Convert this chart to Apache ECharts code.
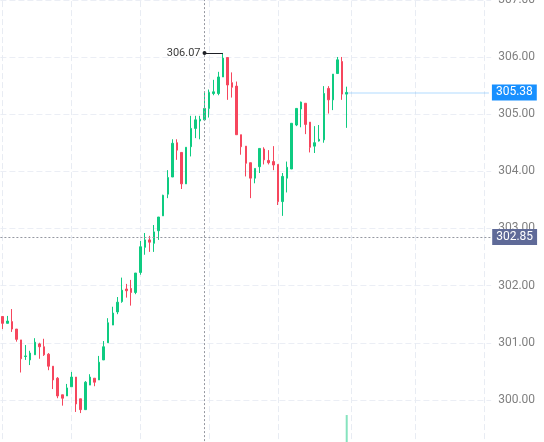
<!DOCTYPE html>
<html><head><meta charset="utf-8">
<script src="https://cdn.jsdelivr.net/npm/echarts@6/dist/echarts.min.js"></script>
<style>html,body{margin:0;padding:0;background:#fff}#c{width:544px;height:442px}</style>
</head><body><div id="c"></div>
<script>
const opens = [301.46, 301.34, 301.37, 301.24, 301.05, 300.76, 300.70, 300.79, 300.98, 300.93,
  300.80, 300.59, 300.38, 300.09, 300.07, 300.23, 300.40, 300.02, 299.83, 300.26,
  300.38, 300.35, 300.70, 301.00, 301.31, 301.54, 301.72, 301.94, 301.95, 301.88,
  302.23, 302.67, 302.80, 302.74, 302.96, 303.22, 303.60, 303.90, 304.50, 304.33,
  303.78, 304.43, 304.75, 304.88, 304.90, 305.10, 305.36, 305.36, 305.65, 305.99,
  305.55, 305.49, 304.64, 304.44, 304.15, 303.88, 304.08, 304.39, 304.19, 304.17,
  304.12, 303.47, 303.88, 304.04, 304.81, 305.09, 305.19, 304.86, 304.44, 304.53,
  304.55, 305.45, 305.25, 305.71, 305.92, 305.35];
const closes = [301.34, 301.38, 301.24, 301.06, 300.72, 300.77, 300.82, 301.01, 300.93, 300.79,
  300.59, 300.35, 300.07, 300.03, 300.21, 300.40, 299.93, 299.83, 300.31, 300.40,
  300.31, 300.66, 300.93, 301.35, 301.52, 301.71, 301.92, 301.91, 301.88, 302.22,
  302.68, 302.80, 302.76, 302.94, 303.20, 303.58, 303.89, 304.49, 304.37, 303.78,
  304.42, 304.75, 304.90, 304.91, 305.10, 305.38, 305.39, 305.65, 305.98, 305.51,
  305.47, 304.64, 304.43, 304.14, 303.88, 304.05, 304.40, 304.20, 304.15, 304.11,
  303.47, 303.91, 304.07, 304.84, 305.10, 305.21, 304.82, 304.42, 304.50, 304.56,
  305.36, 305.25, 305.70, 305.95, 305.35, 305.38];
const lows = [301.24, 301.34, 301.19, 301.02, 300.48, 300.70, 300.61, 300.79, 300.72, 300.77,
  300.52, 300.19, 300.03, 299.90, 300.07, 300.23, 299.79, 299.77, 299.83, 300.26,
  300.24, 300.35, 300.70, 301.00, 301.31, 301.50, 301.70, 301.79, 301.65, 301.85,
  302.19, 302.54, 302.59, 302.59, 302.80, 303.22, 303.53, 303.90, 304.20, 303.69,
  303.78, 304.26, 304.58, 304.56, 304.88, 304.94, 305.33, 305.33, 305.65, 305.25,
  305.29, 304.64, 304.29, 303.91, 303.53, 303.79, 303.97, 304.12, 304.12, 304.02,
  303.41, 303.22, 303.63, 304.04, 304.79, 304.77, 304.65, 304.33, 304.32, 304.52,
  304.50, 305.01, 305.07, 305.71, 305.25, 304.76];
const highs = [301.46, 301.47, 301.59, 301.24, 301.05, 300.96, 300.86, 301.08, 301.00, 301.07,
  300.82, 300.59, 300.40, 300.09, 300.28, 300.49, 300.40, 300.02, 300.33, 300.45,
  300.38, 300.77, 301.03, 301.43, 301.63, 301.80, 302.14, 302.03, 302.10, 302.22,
  302.78, 302.92, 302.87, 303.06, 303.20, 303.59, 304.02, 304.56, 304.56, 304.33,
  304.42, 304.97, 304.97, 304.97, 305.38, 305.43, 305.60, 305.74, 306.07, 305.99,
  305.73, 305.57, 304.64, 304.44, 304.15, 304.05, 304.40, 304.42, 304.37, 304.44,
  304.12, 303.97, 304.17, 304.84, 305.10, 305.22, 305.19, 304.86, 304.79, 304.81,
  305.49, 305.49, 305.70, 306.00, 306.00, 305.48];
const lastVolume = 9.2;            // only the last volume bar is visible in the crop
const crosshairIndex = 44;
const crosshairPrice = 302.85;
const timeGridIndices = [0, 15, 30, 45, 60, 76, 90, 105];
const totalSlots = 107;            // candles plus empty future slots on the right
const yMin = 299, yMax = 307, yStep = 1;

const categories = Array.from({length: totalSlots}, (_, i) => String(i));
const candleData = opens.map((o, i) => [o, closes[i], lows[i], highs[i]]);
const lastIdx = closes.length - 1;
const lastClose = closes[lastIdx];
let maxIdx = 0;
highs.forEach((h, i) => { if (h > highs[maxIdx]) maxIdx = i; });
const maxHigh = highs[maxIdx];
const volumeData = closes.map((_, i) => i === lastIdx ? lastVolume : null);

const UP = '#0ecb81', DOWN = '#f6465d';
const chart = echarts.init(document.getElementById('c'), null, {renderer: 'canvas'});
chart.setOption({
  animation: false,
  backgroundColor: '#ffffff',
  textStyle: {fontFamily: 'Roboto'},
  grid: {left: 0.4, top: -0.2, width: 490.8, height: 457.3, outerBoundsMode: 'none', containLabel: false},
  xAxis: {
    type: 'category', data: categories, boundaryGap: true,
    axisLine: {show: false}, axisTick: {show: false}, axisLabel: {show: false}, splitLine: {show: false}
  },
  yAxis: [{
    type: 'value', position: 'right', min: yMin, max: yMax, interval: yStep,
    axisLine: {show: false}, axisTick: {show: false},
    axisLabel: {formatter: v => v.toFixed(2), color: '#808080', fontSize: 12, margin: 7, showMaxLabel: true},
    splitLine: {lineStyle: {color: '#ebeef5', type: [6, 3], width: 1}}
  }, {
    type: 'value', min: 0, max: 100, show: false, splitLine: {show: false}
  }],
  series: [{
    type: 'bar', yAxisIndex: 1, data: volumeData, barWidth: 2,
    itemStyle: {color: '#86e3be'}, z: 1,
    markLine: {
      silent: true, symbol: 'none', z: 1,
      lineStyle: {color: '#e8ecf3', type: [6, 3], width: 1},
      label: {show: false},
      data: timeGridIndices.map(i => ({xAxis: i}))
    }
  }, {
    type: 'candlestick', data: candleData, barWidth: 2, z: 3,
    itemStyle: {color: UP, color0: DOWN, borderColor: UP, borderColor0: DOWN, borderWidth: 1},
    markLine: {
      silent: true, symbol: 'none', z: 5,
      data: [
        {yAxis: crosshairPrice,
         lineStyle: {color: '#9598a1', type: [2, 2], width: 1},
         label: {show: true, position: 'end', distance: 1, formatter: crosshairPrice.toFixed(2),
                 backgroundColor: '#5f6a98', color: '#fff', padding: [2, 4], fontSize: 12}},
        {xAxis: crosshairIndex,
         lineStyle: {color: '#9598a1', type: [2, 2], width: 1},
         label: {show: false}},
        [{coord: [lastIdx, lastClose], symbol: 'none',
          lineStyle: {color: 'rgba(24,144,255,0.22)', type: 'solid', width: 1.5},
          label: {show: true, position: 'end', distance: 3, formatter: lastClose.toFixed(2),
                  backgroundColor: '#1890ff', color: '#fff', padding: [2, 4], fontSize: 12}},
         {coord: [totalSlots - 1, lastClose], symbol: 'none'}],
        [{coord: [maxIdx - 4, maxHigh], symbol: 'circle', symbolSize: 4,
          lineStyle: {color: '#1e2026', type: 'solid', width: 1},
          label: {show: true, position: 'start', distance: 4, formatter: maxHigh.toFixed(2),
                  color: '#3c3c3c', fontSize: 11}},
         {coord: [maxIdx, maxHigh], symbol: 'none'}]
      ]
    }
  }]
});
</script></body></html>
